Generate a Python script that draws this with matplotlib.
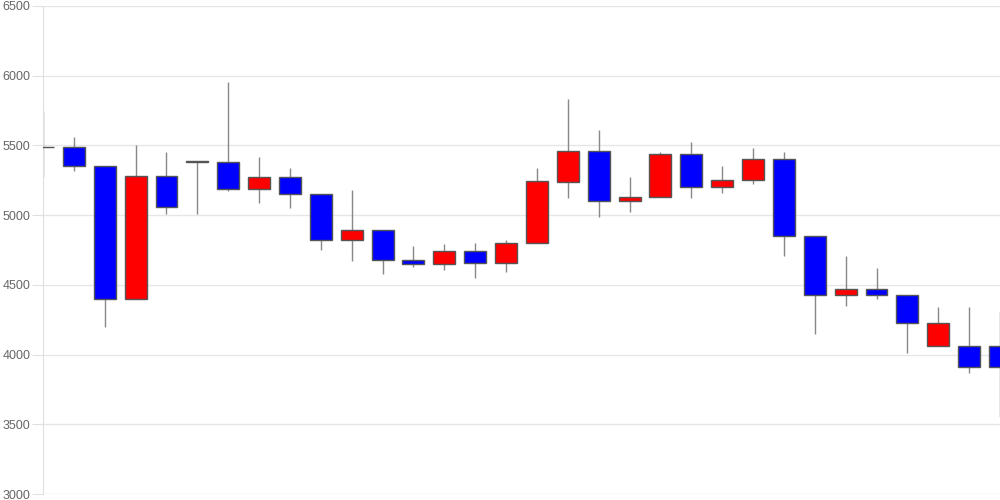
import matplotlib.pyplot as plt

# 日足データ (始値, 高値, 安値, 終値)
opens = [5490, 5490, 5350, 4400, 5280, 5390, 5380, 5190, 5270, 5150,
         4820, 4890, 4680, 4650, 4740, 4660, 4800, 5240, 5460, 5100,
         5130, 5440, 5200, 5250, 5400, 4850, 4430, 4470, 4430, 4060,
         4060, 4060]
highs = [5750, 5560, 5350, 5500, 5450, 5390, 5955, 5420, 5340, 5150,
         5180, 4890, 4780, 4790, 4800, 4820, 5340, 5830, 5610, 5270,
         5450, 5525, 5350, 5480, 5450, 4850, 4710, 4620, 4430, 4340,
         4340, 4310]
lows = [5270, 5320, 4200, 4400, 5010, 5010, 5170, 5090, 5050, 4750,
        4670, 4580, 4630, 4610, 4550, 4590, 4800, 5120, 4985, 5020,
        5130, 5120, 5160, 5220, 4710, 4145, 4350, 4400, 4010, 4060,
        3865, 3550]
closes = [5490, 5350, 4400, 5280, 5060, 5380, 5190, 5270, 5150, 4820,
          4890, 4680, 4650, 4740, 4660, 4800, 5245, 5460, 5100, 5130,
          5440, 5200, 5250, 5400, 4850, 4430, 4470, 4430, 4230, 4230,
          3910, 3910]
yticks = [3000, 3500, 4000, 4500, 5000, 5500, 6000, 6500]

plt.rcParams['font.family'] = ['Liberation Sans', 'DejaVu Sans']

fig = plt.figure(figsize=(10, 5), dpi=100)
ax = fig.add_axes([0.043, 0.012, 0.957, 0.976])

x = list(range(len(opens)))
colors = ['red' if c > o else 'blue' for o, c in zip(opens, closes)]
bottoms = [min(o, c) for o, c in zip(opens, closes)]
heights = [abs(c - o) for o, c in zip(opens, closes)]

# ヒゲ
ax.vlines(x, lows, highs, color='#888888', linewidth=1, zorder=2)
# 実体
ax.bar(x, heights, bottom=bottoms, width=0.71, color=colors,
       edgecolor='#555555', linewidth=1, zorder=3)

ax.set_xlim(0, len(opens) - 1)
ax.set_ylim(3000, 6500)
ax.set_yticks(yticks)
ax.set_xticks([])
ax.grid(axis='y', color='#e6e6e6', linewidth=1, zorder=0)
ax.set_axisbelow(True)

for s in ['top', 'right', 'bottom']:
    ax.spines[s].set_visible(False)
ax.spines['left'].set_color('#e0e0e0')
ax.tick_params(axis='y', length=8, color='#e0e0e0', labelcolor='#666666',
               labelsize=9, pad=1)

fig.savefig('out.png', dpi=100)
